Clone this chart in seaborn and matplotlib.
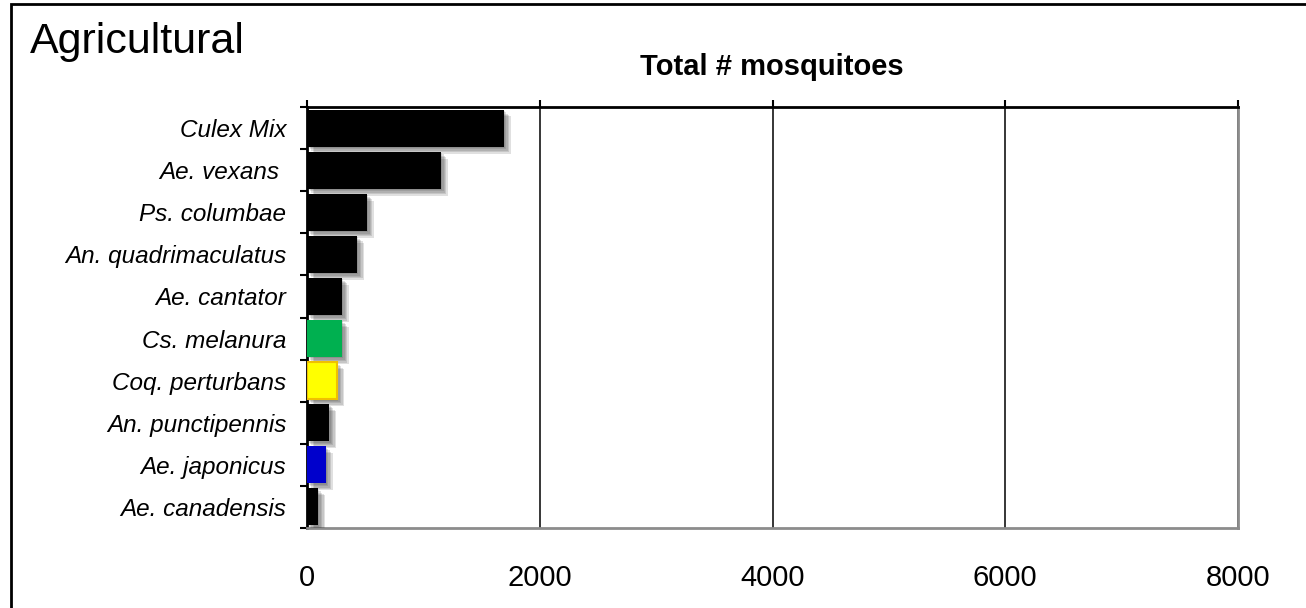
import matplotlib
matplotlib.use("Agg")
import matplotlib.pyplot as plt
import matplotlib.patheffects as pe
from matplotlib.patches import Rectangle
import seaborn as sns
import pandas as pd

# Mosquito counts by species, agricultural sites
species = [
    "Culex Mix", "Ae. vexans ", "Ps. columbae", "An. quadrimaculatus",
    "Ae. cantator", "Cs. melanura", "Coq. perturbans", "An. punctipennis",
    "Ae. japonicus", "Ae. canadensis",
]
counts = [1690, 1150, 515, 430, 300, 300, 258, 190, 160, 95]
bar_colors = ["#000000", "#000000", "#000000", "#000000", "#000000",
              "#00B050", "#FFFF00", "#000000", "#0000CC", "#000000"]
x_ticks = [0, 2000, 4000, 6000, 8000]

sns.set_style("white")
plt.rcParams["font.family"] = ["Liberation Sans", "DejaVu Sans"]
plt.rcParams["text.color"] = "black"
plt.rcParams["xtick.color"] = "black"
plt.rcParams["ytick.color"] = "black"
plt.rcParams["xtick.labelcolor"] = "black"
plt.rcParams["ytick.labelcolor"] = "black"

W, H = 1306, 608
fig = plt.figure(figsize=(W / 100, H / 100), dpi=100)
ax = fig.add_axes([307 / W, 1 - 528 / H, (1238 - 307) / W, (528 - 107) / H])

df = pd.DataFrame({"species": species, "count": counts})
sns.barplot(data=df, x="count", y="species", hue="species",
            palette=dict(zip(species, bar_colors)), orient="h", saturation=1,
            width=0.88, legend=False, ax=ax, zorder=3)

# soft drop shadow under each bar
shadow = [pe.SimplePatchShadow(offset=(o, -o), shadow_rgbFace="#404040", alpha=0.16)
          for o in (1.0, 2.0, 3.0, 4.0, 5.0)] + [pe.Normal()]
for patch, col in zip(ax.patches, bar_colors):
    patch.set_path_effects(shadow)
    patch.set_linewidth(0)
    if col == "#FFFF00":
        patch.set_edgecolor("#F0C000")
        patch.set_linewidth(1.5)

ax.set_xlim(0, 8000)
ax.set_ylim(len(species) - 0.5, -0.5)
ax.set_xticks(x_ticks)
ax.set_xticklabels([str(t) for t in x_ticks])
ax.set_xlabel("")
ax.set_ylabel("")

# vertical gridlines
ax.xaxis.grid(True, color="black", linewidth=1.1, zorder=1)
ax.yaxis.grid(False)
ax.set_axisbelow(True)

# x ticks on the top line, labels kept below the plot
ax.tick_params(axis="x", which="major", bottom=False, top=True, labelbottom=True,
               labeltop=False, direction="out", length=5, width=1.5,
               color="black", labelsize=21, pad=21)

# category ticks sit between bars; labels at bar centres
ax.set_yticks([i - 0.5 for i in range(len(species) + 1)], minor=True)
ax.tick_params(axis="y", which="minor", left=True, direction="out",
               length=5, width=1.5, color="black")
ax.tick_params(axis="y", which="major", left=False, length=0, pad=15,
               labelsize=17.5)
for lbl in ax.get_yticklabels():
    lbl.set_fontstyle("italic")

for side in ("left", "top"):
    ax.spines[side].set_color("black")
    ax.spines[side].set_linewidth(2)
for side in ("right", "bottom"):
    ax.spines[side].set_color("#8C8C8C")
    ax.spines[side].set_linewidth(2)
    ax.spines[side].set_visible(True)

# outer panel frame
fig.patches.append(Rectangle((11 / W, -0.05), 1.1, 1 - 4 / H + 0.05,
                             transform=fig.transFigure, fill=False,
                             edgecolor="black", linewidth=2))

fig.text(30 / W, 1 - 42 / H, "Agricultural", fontsize=31, va="center", ha="left")
fig.text(772 / W, 1 - 67 / H, "Total # mosquitoes", fontsize=21,
         fontweight="bold", va="center", ha="center")

fig.savefig("out.png", dpi=100)
